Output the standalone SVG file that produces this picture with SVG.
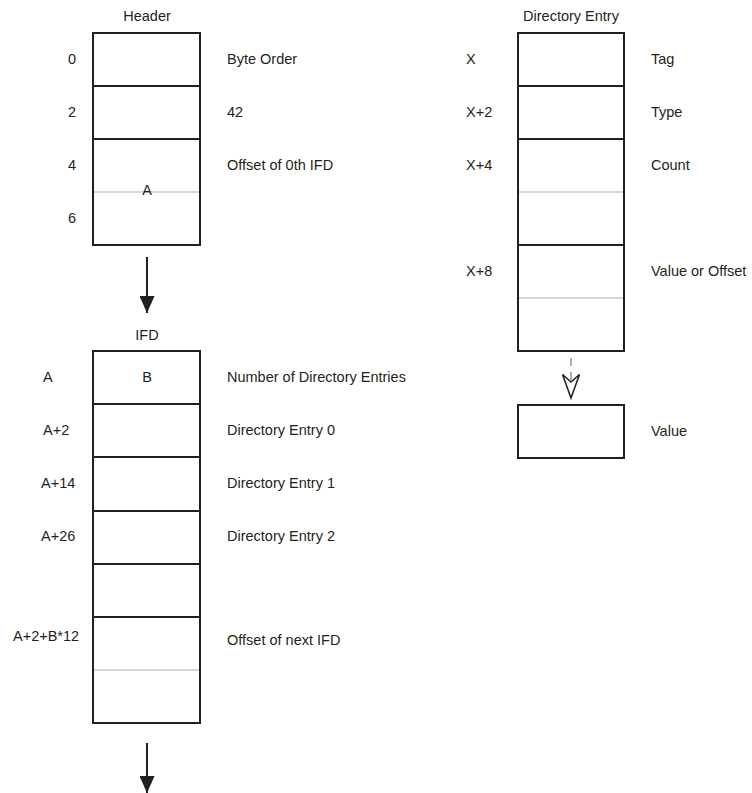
<svg xmlns="http://www.w3.org/2000/svg" width="752" height="793" viewBox="0 0 752 793">
<style>
text{font-family:"Liberation Sans",Arial,sans-serif;font-size:14.5px;fill:#231f20}
.c{text-anchor:middle}
.box{fill:#fff;stroke:#231f20;stroke-width:2}
.div{stroke:#231f20;stroke-width:2}
.gray{stroke:#c8c8c8;stroke-width:1.6}
.conn{stroke:#231f20;stroke-width:2;fill:none}
</style>
<defs>
<marker id="solid" markerWidth="17" markerHeight="15" refX="17" refY="7.5" orient="auto" markerUnits="userSpaceOnUse" viewBox="0 0 17 15">
<path d="M0,0 L17,7.5 L0,15 Z" fill="#231f20"/>
</marker>
</defs>
<rect width="752" height="793" fill="#fff"/>

<g id="header">
<text class="c" x="147" y="21">Header</text>
<rect class="box" x="93" y="33" width="107" height="212"/>
<line class="div" x1="93" y1="86" x2="200" y2="86"/>
<line class="div" x1="93" y1="139" x2="200" y2="139"/>
<line class="gray" x1="94" y1="192" x2="199" y2="192"/>
<text x="68" y="64">0</text>
<text x="68" y="117">2</text>
<text x="68" y="170">4</text>
<text x="68" y="223">6</text>
<text x="227" y="64">Byte Order</text>
<text x="227" y="117">42</text>
<text x="227" y="170">Offset of 0th IFD</text>
<text class="c" x="147" y="195">A</text>
</g>

<g id="ifd">
<text class="c" x="147" y="340">IFD</text>
<rect class="box" x="93" y="351" width="107" height="372"/>
<line class="div" x1="93" y1="404" x2="200" y2="404"/>
<line class="div" x1="93" y1="457" x2="200" y2="457"/>
<line class="div" x1="93" y1="511" x2="200" y2="511"/>
<line class="div" x1="93" y1="564" x2="200" y2="564"/>
<line class="div" x1="93" y1="617" x2="200" y2="617"/>
<line class="gray" x1="94" y1="670" x2="199" y2="670"/>
<text x="43" y="382">A</text>
<text x="43" y="435">A+2</text>
<text x="41" y="488">A+14</text>
<text x="41" y="541">A+26</text>
<text x="13" y="641">A+2+B*12</text>
<text class="c" x="147" y="382">B</text>
<text x="227" y="382">Number of Directory Entries</text>
<text x="227" y="435">Directory Entry 0</text>
<text x="227" y="488">Directory Entry 1</text>
<text x="227" y="541">Directory Entry 2</text>
<text x="227" y="645">Offset of next IFD</text>
</g>

<g id="entry">
<text class="c" x="571" y="21">Directory Entry</text>
<rect class="box" x="518" y="33" width="106" height="318"/>
<line class="div" x1="518" y1="86" x2="624" y2="86"/>
<line class="div" x1="518" y1="139" x2="624" y2="139"/>
<line class="gray" x1="519" y1="192" x2="623" y2="192"/>
<line class="div" x1="518" y1="245" x2="624" y2="245"/>
<line class="gray" x1="519" y1="298" x2="623" y2="298"/>
<text x="466" y="64">X</text>
<text x="466" y="117">X+2</text>
<text x="466" y="170">X+4</text>
<text x="466" y="276">X+8</text>
<text x="651" y="64">Tag</text>
<text x="651" y="117">Type</text>
<text x="651" y="170">Count</text>
<text x="651" y="276">Value or Offset</text>
</g>

<g id="value">
<rect class="box" x="518" y="405" width="106" height="53"/>
<text x="651" y="436">Value</text>
</g>

<g id="connectors">
<line class="conn" x1="147" y1="257" x2="147" y2="313" marker-end="url(#solid)"/>
<line class="conn" x1="147" y1="743" x2="147" y2="793" marker-end="url(#solid)"/>
<line x1="571" y1="358" x2="571" y2="386" stroke="#9a9a9a" stroke-width="1.6" stroke-dasharray="8,6"/>
<path d="M562.5,374.5 L571,398 L579.5,374.5 L571,382 Z" fill="none" stroke="#231f20" stroke-width="1.6" stroke-linejoin="miter"/>
</g>
</svg>
